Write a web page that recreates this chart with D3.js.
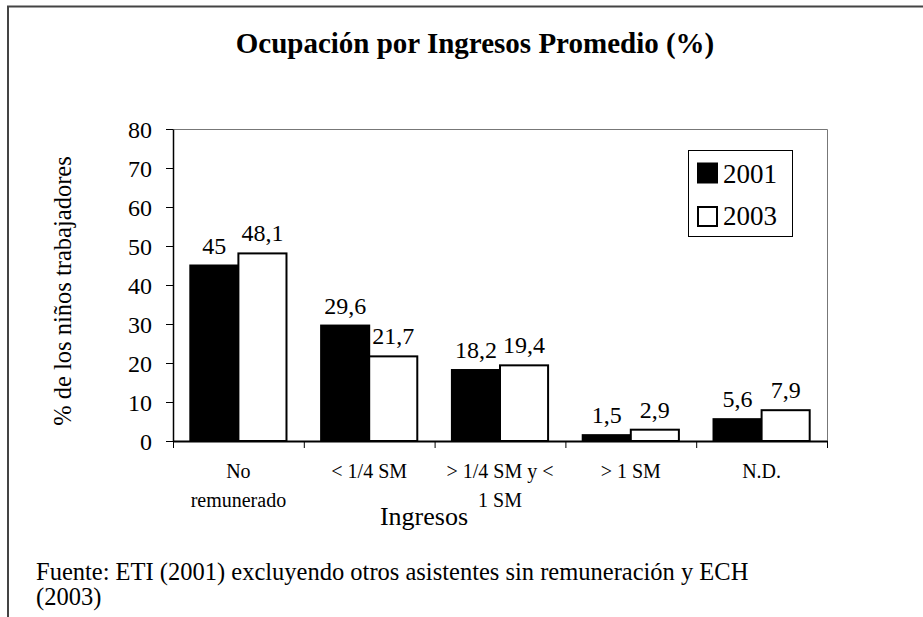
<!DOCTYPE html>
<html>
<head>
  <meta charset="utf-8">
  <title>Ocupación por Ingresos Promedio</title>
  <script src="https://d3js.org/d3.v7.min.js"></script>
  <style>
    body { margin: 0; background: #fff; }
  </style>
</head>
<body>
<div id="grafico"></div>
<script>
  "use strict"

  // dados
  var categorias = ["No remunerado", "< 1/4 SM", "> 1/4 SM y < 1 SM", "> 1 SM", "N.D."];
  var rotulos = [["No", "remunerado"], ["< 1/4 SM"], ["> 1/4 SM y <", "1 SM"], ["> 1 SM"], ["N.D."]];
  var anos = ["2001", "2003"];
  var valores2001 = [45, 29.6, 18.2, 1.5, 5.6];
  var valores2003 = [48.1, 21.7, 19.4, 2.9, 7.9];
  var ticksY = [0, 10, 20, 30, 40, 50, 60, 70, 80];

  var fonte = '"Liberation Serif", "Times New Roman", Times, Tinos, "DejaVu Serif", serif';

  var larguraSVG = 923, alturaSVG = 617;
  var margin = {top: 129, right: 96, bottom: 176, left: 173},
      larguraVis = larguraSVG - margin.left - margin.right,
      alturaVis = alturaSVG - margin.top - margin.bottom;

  var svg = d3.select('#grafico')
    .append('svg')
    .attr('width', larguraSVG)
    .attr('height', alturaSVG)
    .attr('font-family', fonte);

  function texto(sel) {
    return sel.append('text').attr('font-family', fonte).style('font-family', fonte).attr('fill', '#000');
  }

  // moldura externa (so topo e esquerda aparecem)
  svg.append('path')
    .attr('d', 'M8,617V6.5H923')
    .attr('fill', 'none')
    .attr('stroke', '#444')
    .attr('stroke-width', 2);

  texto(svg)
    .attr('x', 475).attr('y', 53)
    .attr('text-anchor', 'middle')
    .style('font-size', '29px').style('font-weight', 'bold')
    .text('Ocupación por Ingresos Promedio (%)');

  var g = svg.append('g')
    .attr('transform', 'translate(' + margin.left + ',' + margin.top + ')');

  var x = d3.scaleBand().domain(categorias).range([0, larguraVis]).paddingInner(0).paddingOuter(0);
  var x1 = d3.scaleBand().domain(anos).range([0, x.bandwidth()]).paddingInner(0).paddingOuter(0.36);
  var y = d3.scaleLinear().domain([0, 80]).range([alturaVis, 0]);

  // borda da area do grafico
  g.append('path')
    .attr('d', 'M0,0.5H' + (larguraVis + 0.5) + 'V' + alturaVis)
    .attr('fill', 'none').attr('stroke', '#777').attr('stroke-width', 1);

  var dados = categorias.map(function (c, i) {
    return {cat: c, valores: [{ano: '2001', v: valores2001[i]}, {ano: '2003', v: valores2003[i]}]};
  });

  var grupos = g.selectAll('.grupo').data(dados).enter().append('g')
    .attr('transform', function (d) { return 'translate(' + x(d.cat) + ',0)'; });

  grupos.selectAll('rect').data(function (d) { return d.valores; }).enter().append('rect')
    .attr('x', function (d) { return x1(d.ano); })
    .attr('y', function (d) { return y(d.v); })
    .attr('width', x1.bandwidth())
    .attr('height', function (d) { return alturaVis - y(d.v); })
    .attr('fill', function (d) { return d.ano === '2001' ? '#000' : '#fff'; })
    .attr('stroke', '#000').attr('stroke-width', 2);

  grupos.selectAll('.rotulo').data(function (d) { return d.valores; }).enter().append('text')
    .attr('font-family', fonte).style('font-family', fonte)
    .attr('x', function (d) { return x1(d.ano) + x1.bandwidth() / 2; })
    .attr('y', function (d) { return y(d.v) - 12; })
    .attr('text-anchor', 'middle')
    .style('font-size', '24px')
    .text(function (d) { return String(d.v).replace('.', ','); });

  // eixo y
  var eixoY = g.append('g')
    .call(d3.axisLeft(y).tickValues(ticksY).tickSize(7).tickPadding(14).tickSizeOuter(0));
  eixoY.attr('font-family', fonte);
  eixoY.select('.domain').attr('stroke', '#000').attr('stroke-width', 1.5);
  eixoY.selectAll('.tick line').attr('stroke', '#000');
  eixoY.selectAll('text').style('font-size', '24px').style('font-family', fonte).attr('dy', '0.35em');

  // eixo x
  var eixoX = g.append('g')
    .attr('transform', 'translate(0,' + alturaVis + ')')
    .call(d3.axisBottom(x).tickSize(0).tickFormat(''));
  eixoX.select('.domain').attr('stroke', '#000').attr('stroke-width', 2);

  g.selectAll('.xtick').data(d3.range(categorias.length + 1)).enter().append('line')
    .attr('x1', function (i) { return i * x.step() + 0.5; })
    .attr('x2', function (i) { return i * x.step() + 0.5; })
    .attr('y1', alturaVis).attr('y2', alturaVis + 7)
    .attr('stroke', '#000');

  var labels = g.selectAll('.xlabel').data(categorias).enter().append('text')
    .attr('font-family', fonte).style('font-family', fonte)
    .attr('text-anchor', 'middle')
    .style('font-size', '20px')
    .attr('transform', function (d) { return 'translate(' + (x(d) + x.bandwidth() / 2) + ',' + (alturaVis + 37) + ')'; });
  labels.selectAll('tspan').data(function (d, i) { return rotulos[i]; }).enter().append('tspan')
    .attr('x', 0)
    .attr('dy', function (d, i) { return i === 0 ? 0 : 29; })
    .text(function (d) { return d; });

  texto(svg)
    .attr('x', 424).attr('y', 525)
    .attr('text-anchor', 'middle')
    .style('font-size', '26px')
    .text('Ingresos');

  texto(svg)
    .attr('transform', 'translate(71,291) rotate(-90)')
    .attr('text-anchor', 'middle')
    .style('font-size', '24.5px')
    .text('% de los niños trabajadores');

  // legenda
  var leg = svg.append('g').attr('transform', 'translate(688,150)');
  leg.append('rect').attr('x', 0.5).attr('y', 0.5).attr('width', 104).attr('height', 86)
    .attr('fill', '#fff').attr('stroke', '#000').attr('stroke-width', 1);
  anos.forEach(function (a, i) {
    leg.append('rect')
      .attr('x', 10).attr('y', 13.5 + i * 43.5)
      .attr('width', 19).attr('height', 19)
      .attr('fill', i === 0 ? '#000' : '#fff')
      .attr('stroke', '#000').attr('stroke-width', 2);
    texto(leg)
      .attr('x', 35).attr('y', 33 + i * 42)
      .style('font-size', '27px')
      .text(a);
  });

  texto(svg)
    .attr('x', 36).attr('y', 580)
    .style('font-size', '24.5px')
    .text('Fuente: ETI (2001) excluyendo otros asistentes sin remuneración y ECH');
  texto(svg)
    .attr('x', 36).attr('y', 605)
    .style('font-size', '24.5px')
    .text('(2003)');
</script>
</body>
</html>
